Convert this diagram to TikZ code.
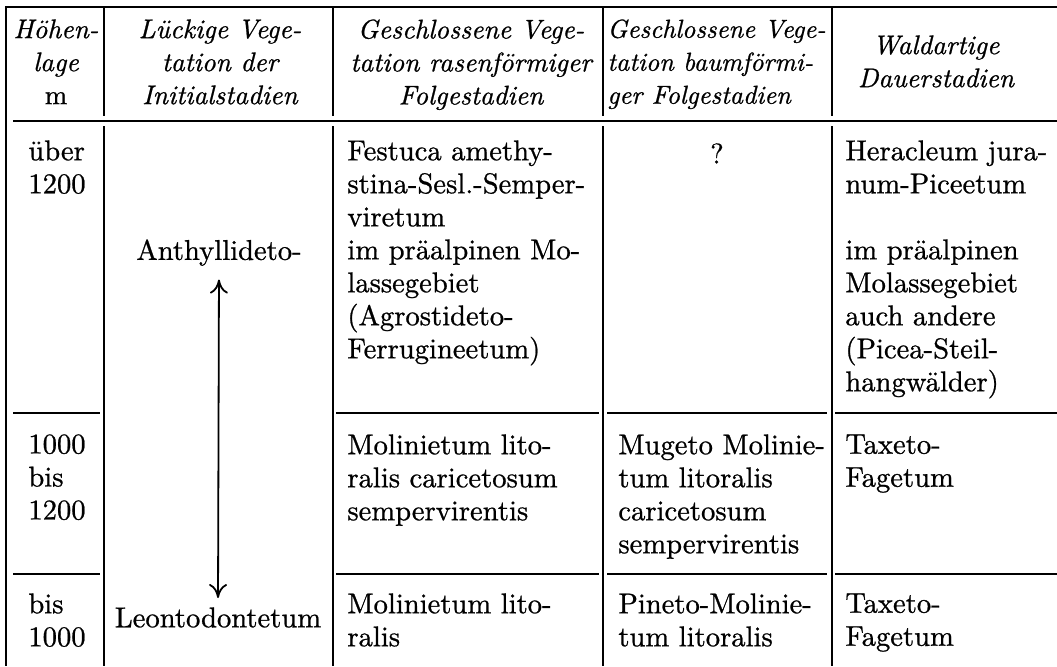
\documentclass[tikz,border=0pt]{standalone}
\usepackage{fontspec}
\usetikzlibrary{arrows.meta}
\newfontfamily\bodyfont{lmroman10-regular.otf}[FakeBold=0.8]
\newfontfamily\headfont{lmroman10-italic.otf}[FakeBold=0.8]
\begin{document}
\begin{tikzpicture}[x=0.5pt,y=-0.5pt,
  hrule/.style={line width=1.3pt},
  vline/.style={line width=0.9pt},
  hd/.style={font=\fontsize{13.5}{16.5}\selectfont\headfont, align=center, inner sep=0pt, anchor=north},
  hdleft/.style={font=\fontsize{13}{16.5}\selectfont\headfont, align=left, inner sep=0pt, anchor=north west},
  bd/.style={font=\fontsize{14.3}{16.5}\selectfont\bodyfont, align=left, inner sep=0pt, anchor=north west},
  bdc/.style={font=\fontsize{14.3}{16.5}\selectfont\bodyfont, align=center, inner sep=0pt, anchor=north},
  biarrow/.style={line width=0.9pt, {Computer Modern Rightarrow[length=7pt,width=9pt]}-{Computer Modern Rightarrow[length=7pt,width=9pt]}}]
\useasboundingbox (0,0) rectangle (1057,666);
% rules
\draw[hrule] (5,7) -- (1057,7);
\draw[vline] (6,7) -- (6,666);
\foreach \x in {104,333,603,832} {
  \draw[vline] (\x,7) -- (\x,116);
  \draw[vline] (\x,126) -- (\x,666);
}
\draw[hrule] (13,121) -- (1057,121);
\foreach \y in {413,574} {
  \draw[hrule] (13,\y) -- (100,\y);
  \draw[hrule] (336,\y) -- (599,\y);
  \draw[hrule] (607,\y) -- (827,\y);
  \draw[hrule] (835,\y) -- (1057,\y);
}
% header
\node[hd] (h1) at (56,19) {Höhen-\\lage\\\bodyfont m};
\node[hd] (h2) at (220,19) {Lückige Vege-\\tation der\\Initialstadien};
\node[hd] (h3) at (471,19) {Geschlossene Vege-\\tation rasenförmiger\\Folgestadien};
\node[hdleft] (h4) at (607,19) {Geschlossene Vege-\\tation baumförmi-\\ger Folgestadien};
\node[hd] (h5) at (936,35) {Waldartige\\Dauerstadien};
% row 1
\node[bd] (r1c1) at (28,140) {über\\1200};
\node[bdc] (anth) at (219,239) {Anthyllideto-};
\node[bd] (r1c3) at (347,140) {Festuca amethy-\\stina-Sesl.-Semper-\\viretum\\im präalpinen Mo-\\lassegebiet\\(Agrostideto-\\Ferrugineetum)};
\node[bdc] (r1c4) at (717,143) {?};
\node[bd] (r1c5) at (845,140) {Heracleum jura-\\num-Piceetum\\[16.5pt]im präalpinen\\Molassegebiet\\auch andere\\(Picea-Steil-\\hangwälder)};
% row 2
\node[bd] (r2c1) at (28,434) {1000\\bis\\1200};
\node[bd] (r2c3) at (347,434) {Molinietum lito-\\ralis caricetosum\\sempervirentis};
\node[bd] (r2c4) at (618,434) {Mugeto Molinie-\\tum litoralis\\caricetosum\\sempervirentis};
\node[bd] (r2c5) at (845,434) {Taxeto-\\Fagetum};
% row 3
\node[bd] (r3c1) at (28,593) {bis\\1000};
\node[bdc] (leon) at (218,607) {Leontodontetum};
\node[bd] (r3c3) at (347,593) {Molinietum lito-\\ralis};
\node[bd] (r3c4) at (618,593) {Pineto-Molinie-\\tum litoralis};
\node[bd] (r3c5) at (845,593) {Taxeto-\\Fagetum};
% arrow
\draw[biarrow, shorten <=6.7pt, shorten >=4.5pt] (anth.south) -- (leon.north);
\end{tikzpicture}
\end{document}
